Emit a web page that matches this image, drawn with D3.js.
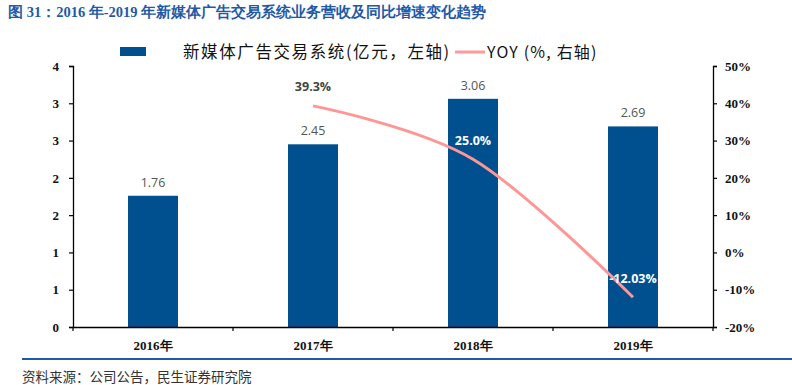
<!DOCTYPE html>
<html><head><meta charset="utf-8">
<script src="https://cdn.jsdelivr.net/npm/d3@7/dist/d3.min.js"></script>
<style>body{margin:0;background:#fff;}svg{display:block;}</style>
</head><body>
<svg id="c" width="792" height="385"></svg>
<script>
const categories = ["2016年","2017年","2018年","2019年"];
const revenue = [1.76, 2.45, 3.06, 2.69];
const revenueLabels = ["1.76","2.45","3.06","2.69"];
const yoyYears = ["2017年","2018年","2019年"];
const yoy = [39.3, 25.0, -12.03];
const yoyLabels = ["39.3%","25.0%","-12.03%"];
const leftTicks = [0,0.5,1,1.5,2,2.5,3,3.5];
const rightTicks = [-20,-10,0,10,20,30,40,50];

const svg = d3.select("#c");
const serif = "'Liberation Serif','DejaVu Serif',serif";
const sans = "'Noto Sans CJK SC','Noto Sans',sans-serif";
const L = 73, R = 713, T = 66, B = 327;

const x = d3.scaleBand().domain(categories).range([L, R]);
const yL = d3.scaleLinear().domain([0, 3.5]).range([B, T]);
const yR = d3.scaleLinear().domain([-20, 50]).range([B, T]);

// title
svg.append("text").attr("x", 8).attr("y", 17)
  .attr("font-family", serif).attr("font-weight", "bold").attr("font-size", 14.5)
  .attr("fill", "#1f5aa6")
  .text("图 31：2016 年-2019 年新媒体广告交易系统业务营收及同比增速变化趋势");

// legend
svg.append("rect").attr("x", 120).attr("y", 47).attr("width", 26).attr("height", 9).attr("fill", "#00508f");
svg.append("text").attr("x", 183).attr("y", 58).attr("font-family", sans).attr("font-size", 16.5)
  .attr("letter-spacing", 1.6).attr("fill", "#111").text("新媒体广告交易系统(亿元，左轴)");
svg.append("line").attr("x1", 455).attr("x2", 485).attr("y1", 52).attr("y2", 52)
  .attr("stroke", "#ff9a9a").attr("stroke-width", 3);
svg.append("text").attr("x", 487).attr("y", 58).attr("font-family", sans).attr("font-size", 16)
  .attr("letter-spacing", 1.2).attr("fill", "#111").text("YOY (%, 右轴)");

// bars
const bw = 50;
svg.selectAll("rect.bar").data(revenue).enter().append("rect").attr("class", "bar")
  .attr("x", (d, i) => x(categories[i]) + x.bandwidth() / 2 - bw / 2)
  .attr("y", d => yL(d)).attr("width", bw).attr("height", d => B - yL(d))
  .attr("fill", "#00508f");
svg.selectAll("text.bl").data(revenue).enter().append("text").attr("class", "bl")
  .attr("x", (d, i) => x(categories[i]) + x.bandwidth() / 2)
  .attr("y", d => yL(d) - 9).attr("text-anchor", "middle")
  .attr("font-family", "'Open Sans','Noto Sans',sans-serif").attr("font-size", 12.5).attr("fill", "#555")
  .text((d, i) => revenueLabels[i]);

// axes
const axL = svg.append("g").attr("transform", `translate(${L},0)`)
  .call(d3.axisLeft(yL).tickValues(leftTicks).tickSize(4).tickFormat(d => Math.round(d + 0.001)));
const axR = svg.append("g").attr("transform", `translate(${R},0)`)
  .call(d3.axisRight(yR).tickValues(rightTicks).tickSize(4).tickFormat(d => d + "%"));
const axB = svg.append("g").attr("transform", `translate(0,${B})`)
  .call(d3.axisBottom(x).tickSize(0).tickPadding(14));
[axL, axR, axB].forEach(g => {
  g.select(".domain").attr("stroke", "#000").attr("stroke-width", 1.3);
  g.selectAll(".tick line").attr("stroke", "#000").attr("stroke-width", 1.2);
  g.selectAll("text").attr("font-family", serif).attr("font-weight", "bold").attr("font-size", 13).attr("fill", "#111");
});
axL.selectAll("text").attr("x", -14);
axR.selectAll("text").attr("x", 12);
// category boundary ticks
svg.append("g").selectAll("line").data(d3.range(categories.length + 1)).enter().append("line")
  .attr("x1", i => L + i * x.bandwidth()).attr("x2", i => L + i * x.bandwidth())
  .attr("y1", B).attr("y2", B + 4).attr("stroke", "#000").attr("stroke-width", 1.2);

// yoy line
const line = d3.line().x((d, i) => x(yoyYears[i]) + x.bandwidth() / 2).y(d => yR(d))
  .curve(d3.curveCatmullRom.alpha(0));
svg.append("path").datum(yoy).attr("d", line).attr("fill", "none")
  .attr("stroke", "#ff9696").attr("stroke-width", 3);
const lblOff = [-15, -14, -14];
const lblCol = ["#444", "#fff", "#fff"];
svg.selectAll("text.yl").data(yoy).enter().append("text").attr("class", "yl")
  .attr("x", (d, i) => x(yoyYears[i]) + x.bandwidth() / 2)
  .attr("y", (d, i) => yR(d) + lblOff[i]).attr("text-anchor", "middle")
  .attr("font-family", "'Open Sans','Noto Sans',sans-serif").attr("font-weight", "bold").attr("font-size", 12.5)
  .attr("fill", (d, i) => lblCol[i]).text((d, i) => yoyLabels[i]);

// bottom rule + source
svg.append("line").attr("x1", 22).attr("x2", 792).attr("y1", 359).attr("y2", 359)
  .attr("stroke", "#1f5aa6").attr("stroke-width", 2);
svg.append("text").attr("x", 22).attr("y", 382).attr("font-family", sans).attr("font-size", 13.5)
  .attr("fill", "#333").text("资料来源：公司公告，民生证券研究院");
</script>
</body></html>
